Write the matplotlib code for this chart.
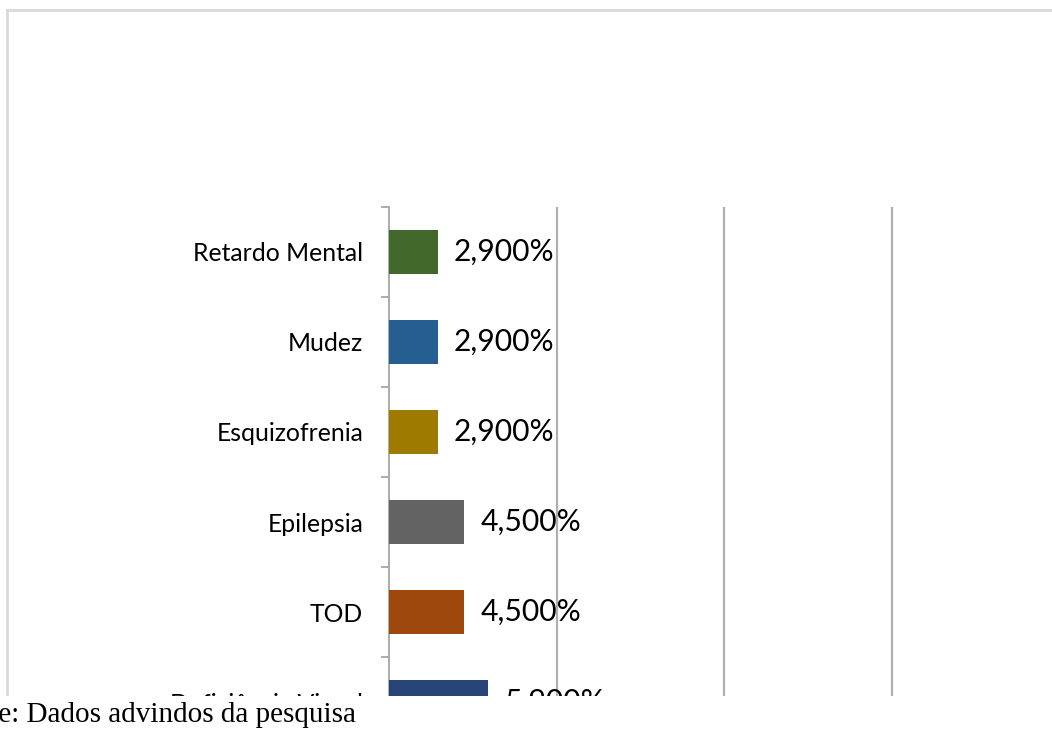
import matplotlib
matplotlib.use("Agg")
import matplotlib.pyplot as plt
from matplotlib.patches import Rectangle
from matplotlib.lines import Line2D
import numpy as np

categorias = ["Retardo Mental", "Mudez", "Esquizofrenia", "Epilepsia", "TOD", "Deficiência Visual"]
valores = [2.9, 2.9, 2.9, 4.5, 4.5, 5.9]
cores = ["#43682B", "#255E91", "#9E7B00", "#636363", "#9E480E", "#264478"]
rotulos = [f"{v:.3f}".replace(".", ",") + "%" for v in valores]
grade = [10, 20, 30, 40]
fonte = "Fonte: Dados advindos da pesquisa"

W, H = 1052, 742
fig = plt.figure(figsize=(W / 100, H / 100), dpi=100)
fig.patch.set_facecolor("white")

# eixo em pixels (a parte de baixo sai da figura, como no recorte original)
x0, y0, px_unid, px_cat = 389, 207, 16.75, 90
n = len(categorias)
ax = fig.add_axes([x0 / W, 1 - (y0 + n * px_cat) / H, 40 * px_unid / W, n * px_cat / H])

y = np.arange(n)
barras = ax.barh(y, valores, height=0.49, color=cores, zorder=3)
ax.bar_label(barras, labels=rotulos, padding=11.5, fontsize=21.6, family="Lato", color="black")

ax.set_xlim(0, 40)
ax.set_ylim(n - 0.5, -0.5)
for g in grade:
    ax.axvline(g, color="#B0B0B0", lw=1.6, zorder=1)

for s in ["top", "right", "bottom"]:
    ax.spines[s].set_visible(False)
ax.spines["left"].set_color("#A6A6A6")
ax.spines["left"].set_linewidth(1.3)
ax.set_xticks([])
ax.set_yticks(y)
ax.set_yticklabels(categorias, fontsize=17.8, family="Lato")
ax.tick_params(axis="y", which="major", length=0, pad=18.5)
ax.set_yticks(np.arange(n + 1) - 0.5, minor=True)
ax.tick_params(axis="y", which="minor", length=6, width=1.3, color="#A6A6A6")

# moldura cinza clara
fig.add_artist(Line2D([7 / W, 7 / W], [0, 1 - 10 / H], color="#D9D9D9", lw=2, zorder=4))
fig.add_artist(Line2D([7 / W, 1], [1 - 10 / H, 1 - 10 / H], color="#D9D9D9", lw=2, zorder=4))

# corte inferior + legenda da fonte
fig.add_artist(Rectangle((0, 0), 1, 46 / H, transform=fig.transFigure,
                         facecolor="white", edgecolor="none", zorder=5))
fig.text(-0.052, 1 - 722 / H, fonte, fontsize=21, family="Liberation Serif",
         ha="left", va="baseline", zorder=6)

fig.savefig("out.png", dpi=100)
